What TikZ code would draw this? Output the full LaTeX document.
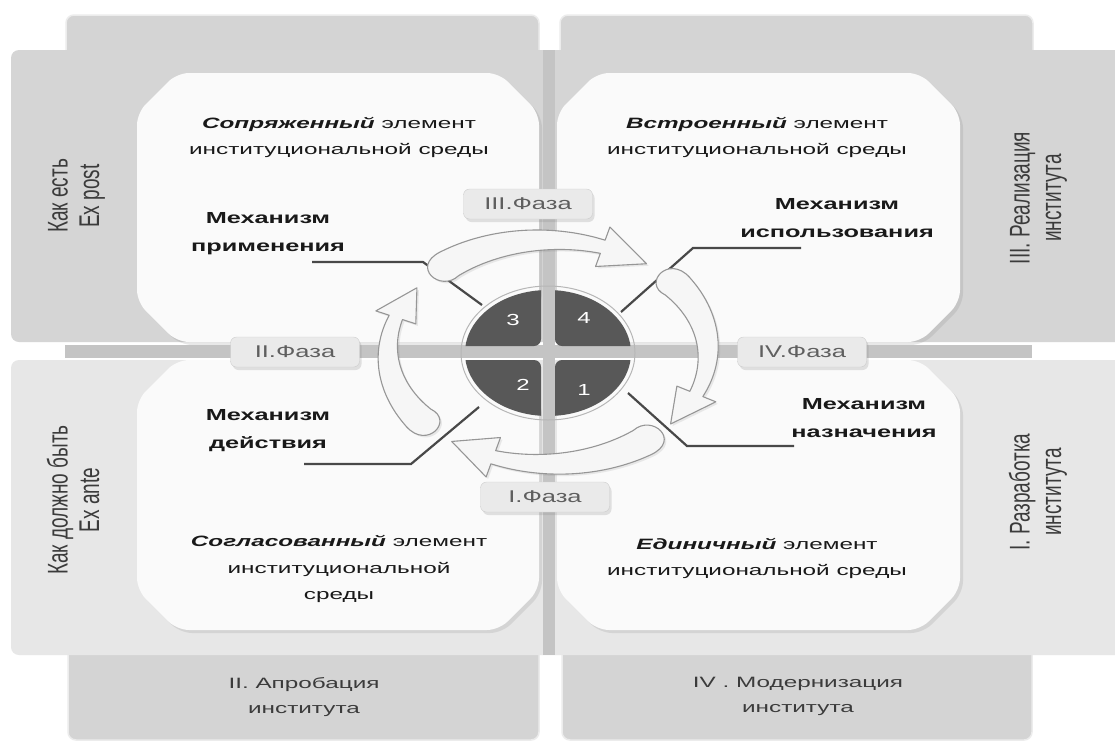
\documentclass[tikz,border=0pt]{standalone}
\usepackage{fontspec}
\setmainfont{Liberation Sans}
\usetikzlibrary{shadows}
\definecolor{bandA}{RGB}{213,213,213}
\definecolor{bandB}{RGB}{231,231,231}
\definecolor{tabc}{RGB}{212,212,212}
\definecolor{tabedge}{RGB}{236,236,236}
\definecolor{stripec}{RGB}{196,196,196}
\definecolor{cardc}{RGB}{250,250,250}
\definecolor{segc}{RGB}{88,88,88}
\definecolor{linec}{RGB}{72,72,72}
\definecolor{arrowline}{RGB}{150,150,150}
\definecolor{arrowfill}{RGB}{246,246,246}
\definecolor{phasefill}{RGB}{234,234,234}
\definecolor{phaseline}{RGB}{205,205,205}
\definecolor{phasetext}{RGB}{95,95,95}
\definecolor{txt}{RGB}{25,25,25}
\newcommand{\sx}[1]{\scalebox{1.5}[1]{#1}}
\newcommand{\sxr}[1]{\scalebox{1.62}[1]{#1}}
\newcommand{\sxb}[1]{\scalebox{1.58}[1]{#1}}
\newcommand{\sy}[1]{\scalebox{1}[1.5]{#1}}
\newcommand{\lines}[1]{\begin{tabular}{@{}c@{}}#1\end{tabular}}
\newcommand{\card}[4]{\fill[cardc, rounded corners=12pt, drop shadow={opacity=0.18, shadow xshift=3pt, shadow yshift=-3pt}] ({#1+40},#2) -- ({#3-40},#2) -- (#3,{#2+40}) -- (#3,{#4-40}) -- ({#3-40},#4) -- ({#1+40},#4) -- (#1,{#4-40}) -- (#1,{#2+40}) -- cycle;}
% #1 tail angle, #2 head base angle, #3 tip angle
\newcommand{\cycarrow}[3]{%
\draw[cyc] plot[smooth, domain=0:1, samples=16] ({548+(160+15-8*\x)*cos(#1+(#2-#1)*\x)}, {352+(112+15-8*\x)*sin(#1+(#2-#1)*\x)})
 -- ({548+181*cos(#2)}, {352+133*sin(#2)})
 -- ({548+160*cos(#3)}, {352+112*sin(#3)})
 -- ({548+139*cos(#2)}, {352+91*sin(#2)})
 -- plot[smooth, domain=0:1, samples=16] ({548+(160-7-8*\x)*cos(#2-(#2-#1)*\x)}, {352+(112-7-8*\x)*sin(#2-(#2-#1)*\x)})
 .. controls ({548+140*cos(#1-12)}, {352+92*sin(#1-12)}) and ({548+180*cos(#1-12)}, {352+132*sin(#1-12)}) .. ({548+175*cos(#1)}, {352+127*sin(#1)}) -- cycle;}
\tikzset{
 cyc/.style={fill=arrowfill, draw=arrowline, line width=1.1pt, line join=round, drop shadow={opacity=0.15, shadow xshift=2pt, shadow yshift=-2pt}},
 phase/.style={draw=phaseline, fill=phasefill, rounded corners=6pt, minimum width=129pt, minimum height=30pt, inner sep=0pt, text=phasetext, font=\fontsize{17}{20}\selectfont, drop shadow={opacity=0.22, shadow xshift=2pt, shadow yshift=-3pt}},
 callout/.style={draw=linec, line width=2.2pt},
 cardtext/.style={inner sep=0pt, text=txt, font=\fontsize{15}{26.5}\selectfont},
 mechtext/.style={inner sep=0pt, text=txt, font=\fontsize{16}{28}\selectfont\bfseries},
 tabtext/.style={inner sep=0pt, text=txt!85, font=\fontsize{15}{25}\selectfont},
 sidetext/.style={inner sep=0pt, text=txt!85, rotate=90, font=\fontsize{19}{21}\selectfont},
 numtext/.style={inner sep=0pt, text=white, font=\fontsize{16}{18}\selectfont},
 tabbox/.style={fill=tabc, draw=tabedge, line width=1.5pt, rounded corners=8pt},
}
\begin{document}
\begin{tikzpicture}[x=1pt, y=-1pt]
\useasboundingbox (0,0) rectangle (1115,742);
\fill[white] (0,0) rectangle (1115,742);
\begin{scope}
\clip (0,0) rectangle (1115,742);
% tabs
\path[tabbox] (66,15) rectangle (539,70);
\path[tabbox] (560,15) rectangle (1033,70);
\path[tabbox] (68,640) rectangle (539,740);
\path[tabbox] (562,640) rectangle (1032,740);
% bands
\fill[bandA, rounded corners=8pt] (1130,50) -- (11,50) -- (11,342) -- (1130,342);
\fill[bandB, rounded corners=8pt] (1130,360) -- (11,360) -- (11,655) -- (1130,655);
\end{scope}
% cards
\card{137}{73}{539}{342}
\card{557}{73}{960}{342}
\card{137}{360}{539}{630}
\card{557}{360}{960}{630}
% stripes
\fill[stripec] (65,345) rectangle (1032,358);
\fill[stripec] (543,50) rectangle (555,655);
% callout lines
\coordinate (a1) at (312,262); \coordinate (a2) at (423,262); \coordinate (a3) at (482,305);
\coordinate (b1) at (801,248); \coordinate (b2) at (693,248); \coordinate (b3) at (621,312);
\coordinate (c1) at (304,464); \coordinate (c2) at (411,464); \coordinate (c3) at (479,407);
\coordinate (d1) at (794,446); \coordinate (d2) at (687,446); \coordinate (d3) at (628,393);
\draw[callout] (a1) -- (a2) -- (a3);
\draw[callout] (b1) -- (b2) -- (b3);
\draw[callout] (c1) -- (c2) -- (c3);
\draw[callout] (d1) -- (d2) -- (d3);
% cycle arrows
\cycarrow{232}{290}{308}
\cycarrow{324}{382}{400}
\cycarrow{54}{110}{127}
\cycarrow{144}{198}{215}
% centre disc
\draw[arrowline!70, line width=1pt] (548,353) ellipse [x radius=87, y radius=67];
\begin{scope}
\clip (548,353) ellipse [x radius=83, y radius=63];
\fill[segc, rounded corners=7pt] (440,270) rectangle (541,346);
\fill[segc, rounded corners=7pt] (555,270) rectangle (660,346);
\fill[segc, rounded corners=7pt] (440,360) rectangle (541,440);
\fill[segc, rounded corners=7pt] (555,360) rectangle (660,440);
\end{scope}
\node[numtext] (n3) at (513,320) {\sx{3}};
\node[numtext] (n4) at (584,318) {\sx{4}};
\node[numtext] (n2) at (523,385) {\sx{2}};
\node[numtext] (n1) at (584,390) {\sx{1}};
% phase labels
\node[phase] (p3) at (528,204) {\sx{III.Фаза}};
\node[phase] (p2) at (295,352) {\sx{II.Фаза}};
\node[phase] (p4) at (802,352) {\sx{IV.Фаза}};
\node[phase] (p1) at (545,497) {\sx{I.Фаза}};
% card texts
\node[cardtext] (t3) at (339,136) {\sxr{\lines{\textbf{\textit{Сопряженный}} элемент\\институциональной среды}}};
\node[cardtext] (t4) at (757,136) {\sxr{\lines{\textbf{\textit{Встроенный}} элемент\\институциональной среды}}};
\node[cardtext] (t2) at (339,568) {\sxr{\lines{\textbf{\textit{Согласованный}} элемент\\институциональной\\среды}}};
\node[cardtext] (t1) at (757,557) {\sxr{\lines{\textbf{\textit{Единичный}} элемент\\институциональной среды}}};
% mechanisms
\node[mechtext] (m3) at (268,232) {\sxb{\lines{Механизм\\применения}}};
\node[mechtext] (m4) at (837,218) {\sxb{\lines{Механизм\\использования}}};
\node[mechtext] (m2) at (268,429) {\sxb{\lines{Механизм\\действия}}};
\node[mechtext] (m1) at (864,418) {\sxb{\lines{Механизм\\назначения}}};
% tab texts
\node[tabtext] (b2t) at (304,696) {\sxr{\lines{II. Апробация\\института}}};
\node[tabtext] (b4t) at (798,695) {\sxr{\lines{IV . Модернизация\\института}}};
% side texts
\node[sidetext] (s1) at (77,196) {\sy{\lines{Как есть\\Ex post}}};
\node[sidetext] (s2) at (77,500) {\sy{\lines{Как должно быть\\Ex ante}}};
\node[sidetext] (s3) at (1039,198) {\sy{\lines{III. Реализация\\института}}};
\node[sidetext] (s4) at (1039,492) {\sy{\lines{I. Разработка\\института}}};
\end{tikzpicture}
\end{document}
